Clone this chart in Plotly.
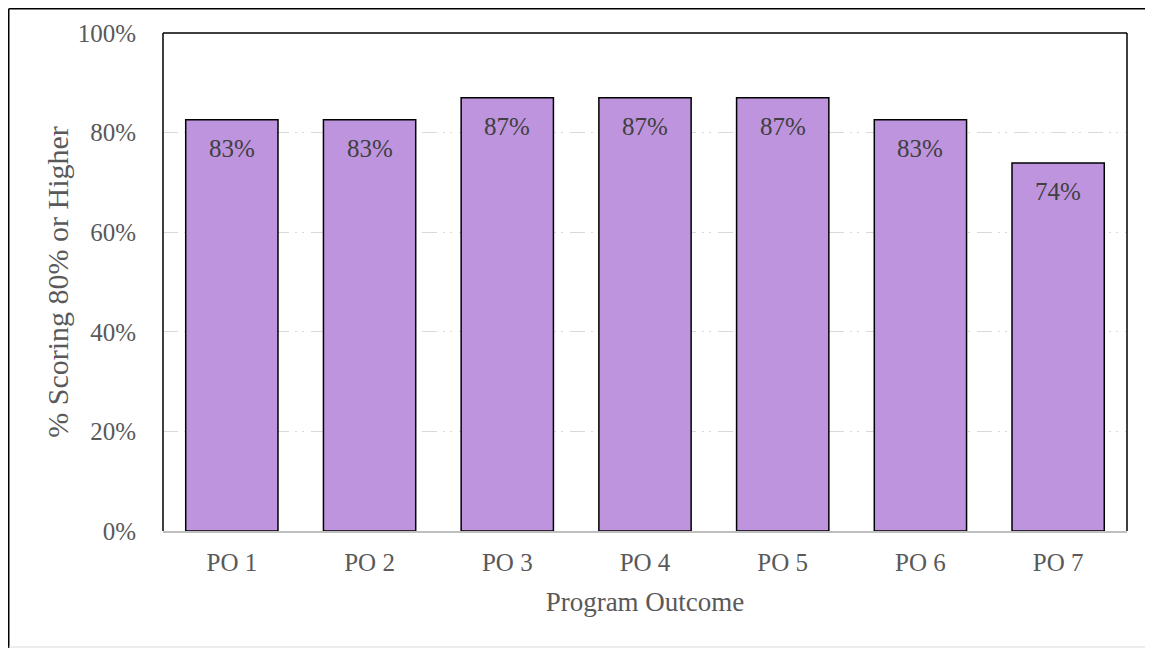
import plotly.graph_objects as go

categories = ["PO 1", "PO 2", "PO 3", "PO 4", "PO 5", "PO 6", "PO 7"]
values = [0.826, 0.826, 0.870, 0.870, 0.870, 0.826, 0.739]
y_ticks = [0, 0.2, 0.4, 0.6, 0.8, 1.0]
y_tick_labels = ["0%", "20%", "40%", "60%", "80%", "100%"]

FONT = "Liberation Serif, Times New Roman, serif"
TICK = 25
TITLE = 27

# page body has an 8px margin; figure sized so the plot lands where the reference has it
W, H = 1145, 640
L, R, T, B = 155, 26, 25, 117
pw, ph = W - L - R, H - T - B


def px(x):
    return (x - L) / pw


def py(y):
    return (H - B - y) / ph


fig = go.Figure()
fig.add_trace(go.Bar(
    x=categories, y=values,
    marker=dict(color="#BF94DF", line=dict(color="black", width=1.5)),
    width=0.67,
    hoverinfo="skip",
))

annotations = [
    dict(x=c, y=v, xref="x", yref="y", text=f"{round(v * 100)}%", showarrow=False,
         yanchor="top", yshift=-13, font=dict(family=FONT, size=TICK, color="#404040"))
    for c, v in zip(categories, values)
]

fig.update_layout(
    width=W, height=H,
    margin=dict(l=L, r=R, t=T, b=B),
    plot_bgcolor="white", paper_bgcolor="white",
    showlegend=False,
    font=dict(family=FONT, color="#595959"),
    xaxis=dict(
        title=dict(text="Program Outcome", font=dict(family=FONT, size=TITLE, color="#595959"), standoff=17),
        tickfont=dict(family=FONT, size=TICK, color="#595959"),
        showline=True, linecolor="#BFBFBF", linewidth=2,
        ticks="", ticklabelstandoff=8,
    ),
    yaxis=dict(
        title=dict(text="% Scoring 80% or Higher", font=dict(family=FONT, size=30, color="#595959"), standoff=0),
        range=[0, 1],
        tickvals=y_ticks, ticktext=y_tick_labels,
        tickfont=dict(family=FONT, size=TICK, color="#595959"),
        showgrid=True, gridcolor="#D9D9D9", gridwidth=1.3,
        griddash="15px,6px,2px,5px,2px,7px",
        zeroline=False, showline=False,
        ticks="", ticklabelstandoff=26,
    ),
    annotations=annotations,
    shapes=[
        dict(type="line", xref="paper", yref="paper", x0=0, x1=0, y0=0, y1=1, line=dict(color="black", width=1.5)),
        dict(type="line", xref="paper", yref="paper", x0=0, x1=1, y0=1, y1=1, line=dict(color="black", width=1.5)),
        dict(type="line", xref="paper", yref="paper", x0=1, x1=1, y0=0, y1=1, line=dict(color="black", width=1.5)),
        dict(type="line", xref="paper", yref="paper", x0=px(0.75), x1=px(0.75), y0=py(H), y1=py(0.75), line=dict(color="black", width=1.5)),
        dict(type="line", xref="paper", yref="paper", x0=px(0.75), x1=px(W), y0=py(0.75), y1=py(0.75), line=dict(color="black", width=1.5)),
        dict(type="line", xref="paper", yref="paper", x0=px(0.75), x1=px(W), y0=py(639), y1=py(639), line=dict(color="#D9D9D9", width=1)),
    ],
)

fig.write_html("out.html")
